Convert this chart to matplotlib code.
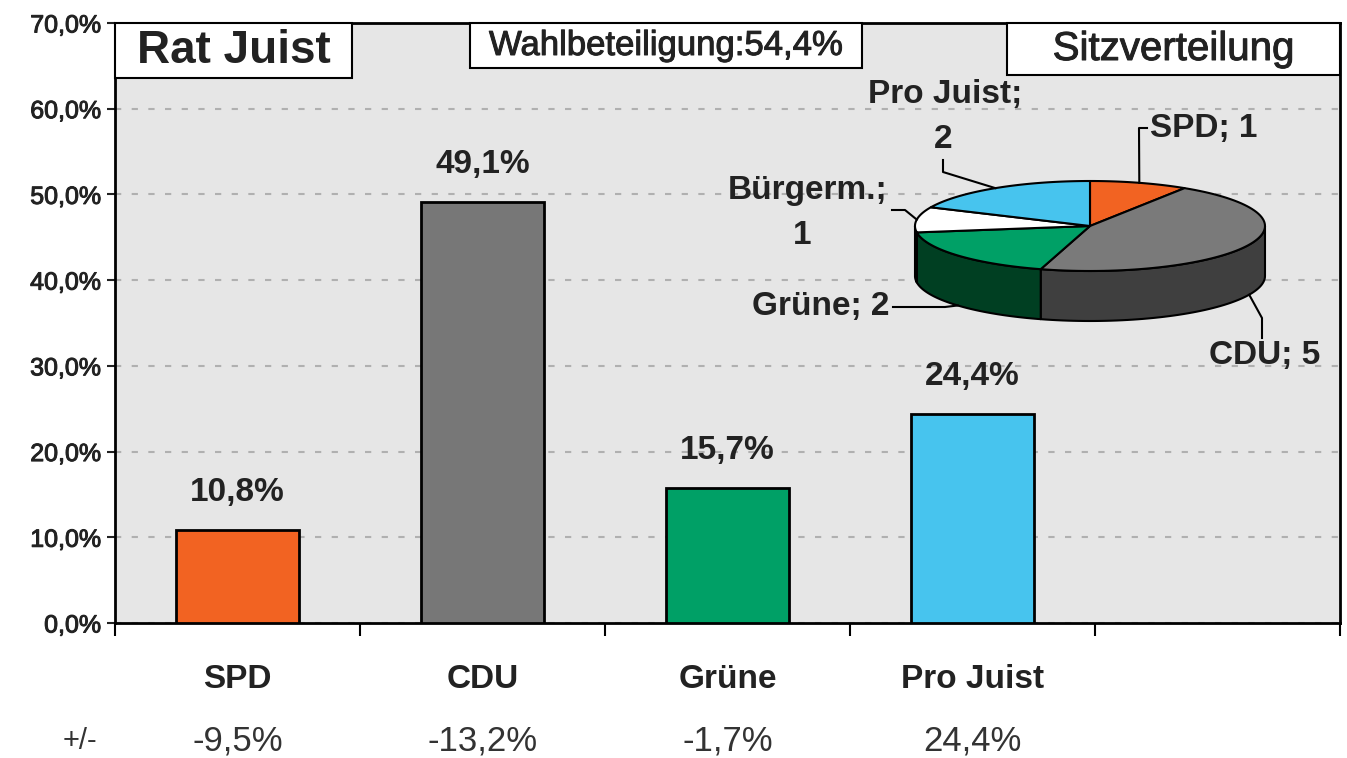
# Rat Juist - Wahlergebnis mit Sitzverteilung

import numpy as np
import matplotlib
matplotlib.use("Agg")
import matplotlib.pyplot as plt
import matplotlib.patheffects as pe
from matplotlib.patches import Rectangle, Polygon

plt.rcParams['font.family'] = ['Liberation Sans', 'DejaVu Sans']

# bar chart data
parties = ['SPD', 'CDU', 'Grüne', 'Pro Juist']
votes = [10.8, 49.1, 15.7, 24.4]
vote_labels = ['10,8%', '49,1%', '15,7%', '24,4%']
changes = ['-9,5%', '-13,2%', '-1,7%', '24,4%']
bar_colors = ['#f26322', '#777777', '#00a066', '#47c4ee']
n_slots = 5
yticks = [0, 10, 20, 30, 40, 50, 60, 70]
ytick_labels = ['0,0%', '10,0%', '20,0%', '30,0%', '40,0%', '50,0%', '60,0%', '70,0%']

# seat distribution
seat_names = ['SPD', 'CDU', 'Grüne', 'Bürgerm.', 'Pro Juist']
seats = [1, 5, 2, 1, 2]
seat_top = ['#f26322', '#7a7a7a', '#00a066', '#ffffff', '#47c4ee']
seat_side = ['#a8420f', '#3f3f3f', '#003f22', '#d5d5d5', '#1f86b0']

title = 'Rat Juist'
turnout = 'Wahlbeteiligung:54,4%'
pie_title = 'Sitzverteilung'

W, H = 1347, 758
fig = plt.figure(figsize=(W / 100, H / 100), dpi=100)
heavy = [pe.withStroke(linewidth=0.7, foreground='#222222')]


def fx(px):
    return px / W


def fy(py):
    return 1 - py / H


# a. main bar axes
ax = fig.add_axes([fx(115), fy(623), fx(1340) - fx(115), fy(23) - fy(623)])
ax.set_facecolor('#e6e6e6')
x = np.arange(len(parties))
ax.bar(x, votes, width=0.5, color=bar_colors, edgecolor='black', linewidth=2, zorder=3)
ax.set_xlim(-0.5, n_slots - 0.5)
ax.set_ylim(0, 70)
ax.set_yticks(yticks)
ax.set_yticklabels(ytick_labels)
ax.set_xticks(np.arange(n_slots + 1) - 0.5)
ax.set_xticklabels([])
ax.tick_params(axis='y', direction='out', length=6, width=1.5, labelsize=18, pad=4, colors='#222222')
ax.tick_params(axis='x', direction='out', length=9, width=1.5)
for t in ax.get_yticklabels():
    t.set_path_effects(heavy)
ax.yaxis.grid(True, color='#b0b0b0', linestyle=(0, (3, 5)), linewidth=1.5)
ax.set_axisbelow(True)
for s in ax.spines.values():
    s.set_linewidth(2)

for i, (v, lbl) in enumerate(zip(votes, vote_labels)):
    ax.annotate(lbl, (i, v), xytext=(0, 27), textcoords='offset points',
                ha='center', va='center', fontsize=24, fontweight='bold', color='#222222')

tr = ax.get_xaxis_transform()
for i, (p, c) in enumerate(zip(parties, changes)):
    ax.text(i, -0.095, p, transform=tr, ha='center', va='center', fontsize=24,
            fontweight='bold', color='#222222')
    ax.text(i, -0.197, c, transform=tr, ha='center', va='center', fontsize=25, color='#333333')
ax.text(-0.029, -0.197, '+/-', transform=ax.transAxes, ha='center', va='center',
        fontsize=21, color='#333333')

# b. title boxes
def box(x0, x1, y0, txt, size, weight):
    ax.add_patch(Rectangle((x0, y0), x1 - x0, 1 - y0, transform=ax.transAxes,
                           facecolor='white', edgecolor='black', linewidth=1.5,
                           zorder=5, clip_on=False))
    t = ax.text((x0 + x1) / 2, (y0 + 1) / 2, txt, transform=ax.transAxes, ha='center',
                va='center', fontsize=size, fontweight=weight, color='#222222', zorder=6)
    if weight == 'normal':
        t.set_path_effects(heavy)

box(0, 0.1935, 0.9083, title, 33, 'bold')
box(0.2898, 0.6098, 0.925, turnout, 25, 'normal')
box(0.7282, 1.0, 0.9133, pie_title, 29, 'normal')

# c. 3d pie for seats
cx, cy, rx, ry, dep = 1090, 226, 175, 45, 50
m = 6
pax = fig.add_axes([fx(cx - rx - m), fy(cy + ry + dep + m),
                    (2 * rx + 2 * m) / W, (2 * ry + dep + 2 * m) / H])
pax.set_xlim(-1 - m / rx, 1 + m / rx)
pax.set_ylim(-(ry + dep + m) / ry, (ry + m) / ry)
pax.axis('off')
d = dep / ry

frac = np.cumsum([0] + seats) / sum(seats)
theta = np.pi / 2 - 2 * np.pi * frac

for i in range(len(seats)):
    lo, hi = theta[i + 1], theta[i]
    a, b = max(lo, -np.pi), min(hi, 0)
    if a < b:
        t = np.linspace(a, b, 60)
        pts = np.concatenate([np.column_stack([np.cos(t), np.sin(t)]),
                              np.column_stack([np.cos(t[::-1]), np.sin(t[::-1]) - d])])
        pax.add_patch(Polygon(pts, closed=True, facecolor=seat_side[i], edgecolor='black',
                              linewidth=1.5, joinstyle='round'))
for i in range(len(seats)):
    t = np.linspace(theta[i], theta[i + 1], 80)
    pts = np.vstack([[0, 0], np.column_stack([np.cos(t), np.sin(t)])])
    pax.add_patch(Polygon(pts, closed=True, facecolor=seat_top[i], edgecolor='black',
                          linewidth=1.5, joinstyle='round'))


def pd(px, py):
    return (px - cx) / rx, (cy - py) / ry


mid = (theta[:-1] + theta[1:]) / 2
anchors = []
for t in mid:
    if np.sin(t) < 0:
        anchors.append((np.cos(t), np.sin(t) - d))
    else:
        anchors.append((np.cos(t), np.sin(t)))

# leader path points (px) after the anchor
leaders = {
    'SPD': [(1139, 128), (1147, 128)],
    'CDU': [(1262, 318), (1262, 338)],
    'Grüne': [(945, 307), (893, 307)],
    'Bürgerm.': [(905, 210), (892, 210)],
    'Pro Juist': [(943, 172), (943, 160)],
}
for i, name in enumerate(seat_names):
    xs = [anchors[i][0]] + [pd(*p)[0] for p in leaders[name]]
    ys = [anchors[i][1]] + [pd(*p)[1] for p in leaders[name]]
    pax.plot(xs, ys, color='black', linewidth=1.5, clip_on=False)

lab = dict(fontsize=24, fontweight='bold', color='#222222', clip_on=False)
pax.text(*pd(1150, 128), f'{seat_names[0]}; {seats[0]}', ha='left', va='center', **lab)
pax.text(*pd(1265, 356), f'{seat_names[1]}; {seats[1]}', ha='center', va='center', **lab)
pax.text(*pd(890, 307), f'{seat_names[2]}; {seats[2]}', ha='right', va='center', **lab)
pax.text(*pd(808, 190), f'{seat_names[3]};', ha='center', va='center', **lab)
pax.text(*pd(802, 235), f'{seats[3]}', ha='center', va='center', **lab)
pax.text(*pd(945, 95), f'{seat_names[4]};', ha='center', va='center', **lab)
pax.text(*pd(943, 140), f'{seats[4]}', ha='center', va='center', **lab)

fig.savefig('out.png', dpi=100, facecolor='white')
